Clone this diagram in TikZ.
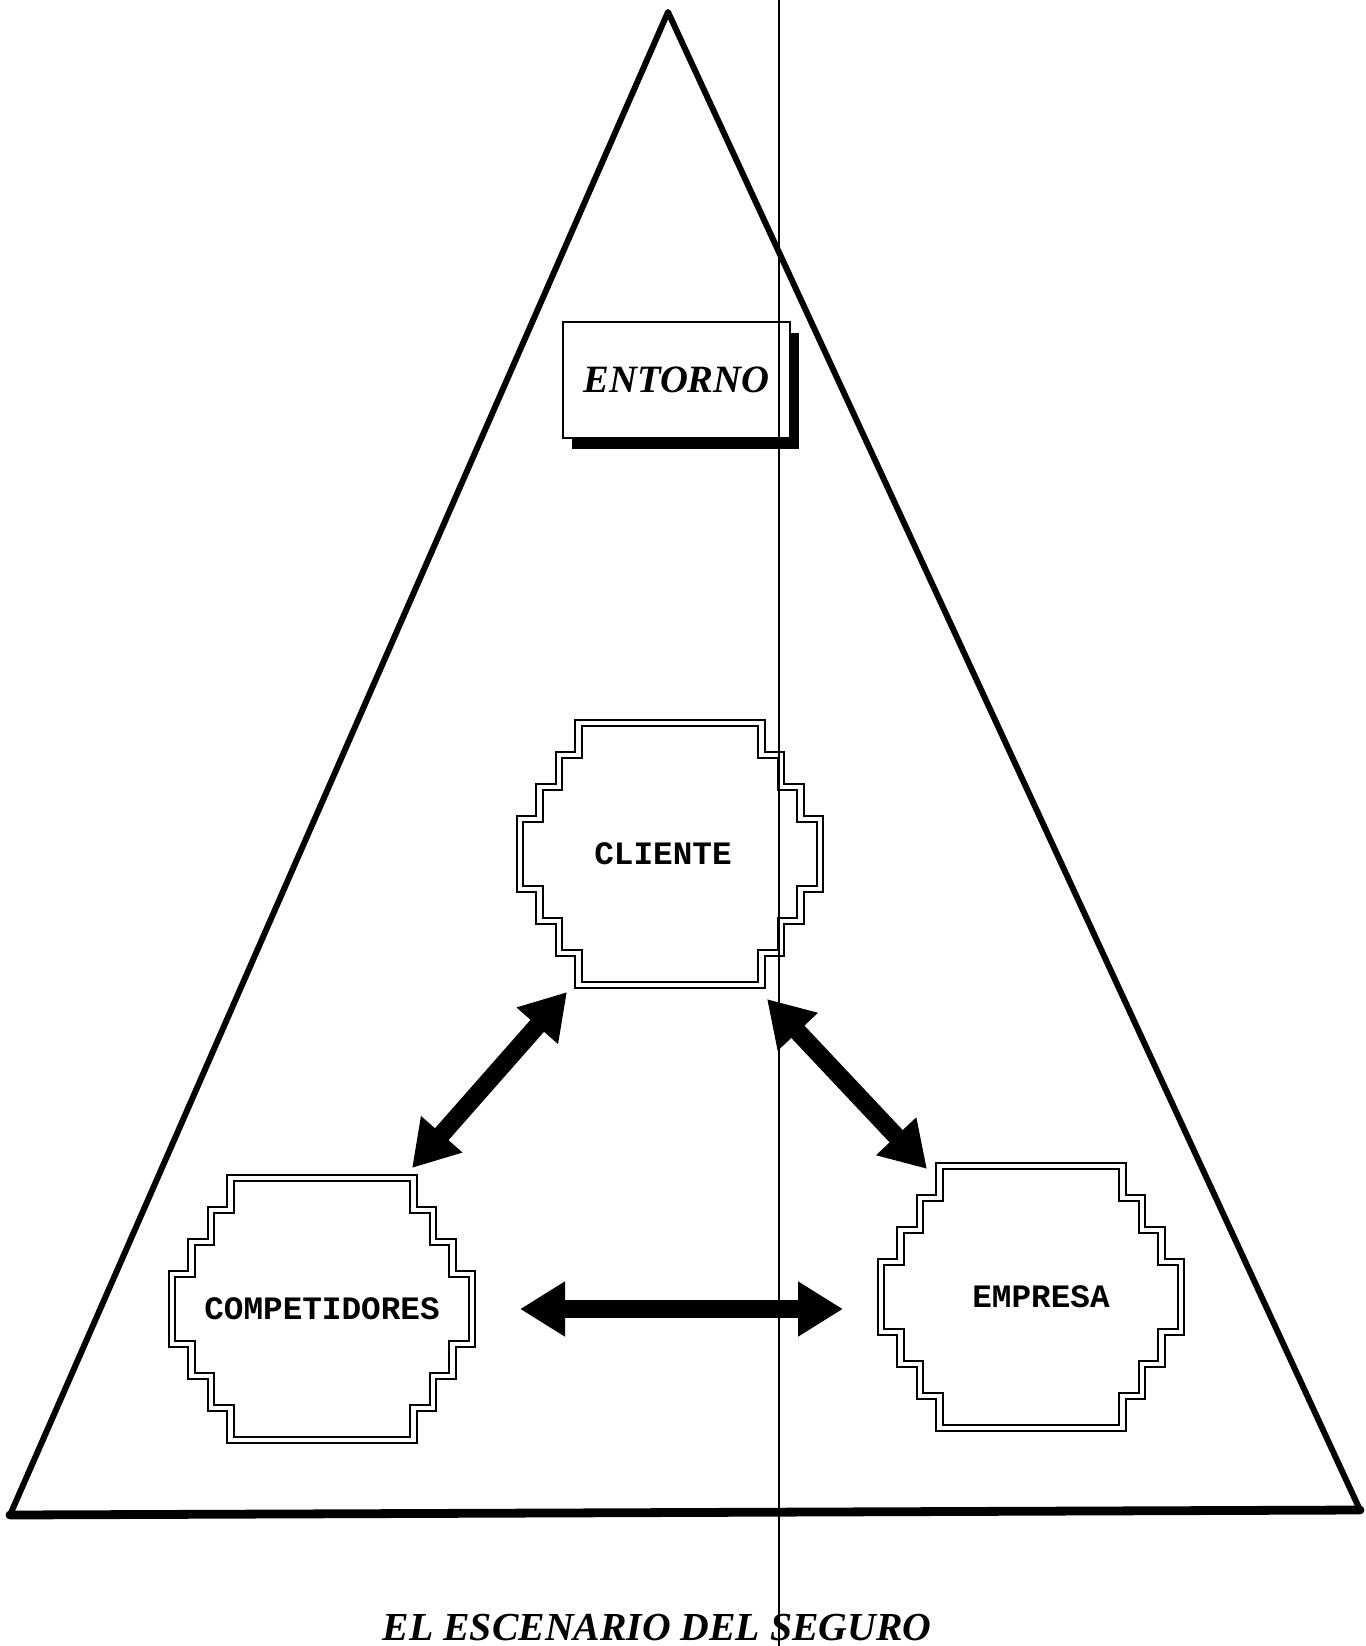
\documentclass[tikz,border=0pt]{standalone}
\usepackage{fontspec}
\setmainfont{Liberation Serif}
\newfontfamily\courierfont{Liberation Mono}
\usepackage{tikz}
\usetikzlibrary{arrows.meta,calc,shadows}

\tikzset{
  rim/.style={line width=1.7pt, line join=round, line cap=round},
  blob/.style={minimum width=3cm, minimum height=2.62cm, inner sep=0pt, outer sep=0pt,
    font=\courierfont\bfseries\fontsize{9.3}{11}\selectfont},
  blobline/.style={double, line width=0.55pt, double distance=1.2pt},
  twoway/.style={{Triangle[length=0.45cm,width=0.52cm]}-{Triangle[length=0.45cm,width=0.52cm]}, line width=0.18cm},
}

% stepped double outline round a blob node
\newcommand{\stepblob}[1]{%
  \draw[blobline] ($(#1.north west)+(0.585,0)$) -- ++(1.83,0)
    -- ++(0,-0.32) -- ++(0.195,0) -- ++(0,-0.32) -- ++(0.195,0) -- ++(0,-0.32) -- ++(0.195,0)
    -- ++(0,-0.70)
    -- ++(-0.195,0) -- ++(0,-0.32) -- ++(-0.195,0) -- ++(0,-0.32) -- ++(-0.195,0) -- ++(0,-0.32)
    -- ++(-1.83,0)
    -- ++(0,0.32) -- ++(-0.195,0) -- ++(0,0.32) -- ++(-0.195,0) -- ++(0,0.32) -- ++(-0.195,0)
    -- ++(0,0.70)
    -- ++(0.195,0) -- ++(0,0.32) -- ++(0.195,0) -- ++(0,0.32) -- ++(0.195,0) -- cycle;}

\begin{document}
\begin{tikzpicture}
\useasboundingbox (0,0) rectangle (13.65,-16.46);

% the triangle
\coordinate (apex) at (6.68,-0.12);
\coordinate (left) at (0.10,-15.15);
\coordinate (right) at (13.60,-15.10);
\draw[rim] (apex) -- (left) -- (right) -- cycle;
\draw[rim, line width=2.5pt] (left) -- (right);

\node[draw, line width=0.6pt, fill=white, minimum width=2.27cm, minimum height=1.16cm,
  drop shadow={shadow xshift=0.09cm, shadow yshift=-0.11cm, fill=black, opacity=1},
  font=\bfseries\itshape\fontsize{11}{13}\selectfont] (entorno) at (6.765,-3.80) {ENTORNO};

\node[blob] (cliente) at (6.70,-8.54) {\hspace*{-0.14cm}CLIENTE};
\node[blob] (competidores) at (3.22,-13.09) {COMPETIDORES};
\node[blob] (empresa) at (10.31,-12.97) {\hspace*{0.2cm}EMPRESA};
\stepblob{cliente}
\stepblob{competidores}
\stepblob{empresa}

\draw[twoway] ([xshift=0.47cm,yshift=-0.07cm]cliente.south west) -- ([xshift=-0.60cm,yshift=0.10cm]competidores.north east);
\draw[twoway] ([xshift=-0.53cm,yshift=-0.14cm]cliente.south east) -- ([xshift=0.46cm,yshift=-0.03cm]empresa.north west);
\draw[twoway, shorten <=0.48cm, shorten >=0.38cm] (competidores.east) -- (competidores.east -| empresa.west);

\node[anchor=base, font=\bfseries\itshape\fontsize{11.3}{13}\selectfont] (titulo) at (6.57,-16.40) {EL ESCENARIO DEL SEGURO};

\draw[line width=0.45pt] (7.79,0) -- (7.79,-16.46);
\end{tikzpicture}
\end{document}
